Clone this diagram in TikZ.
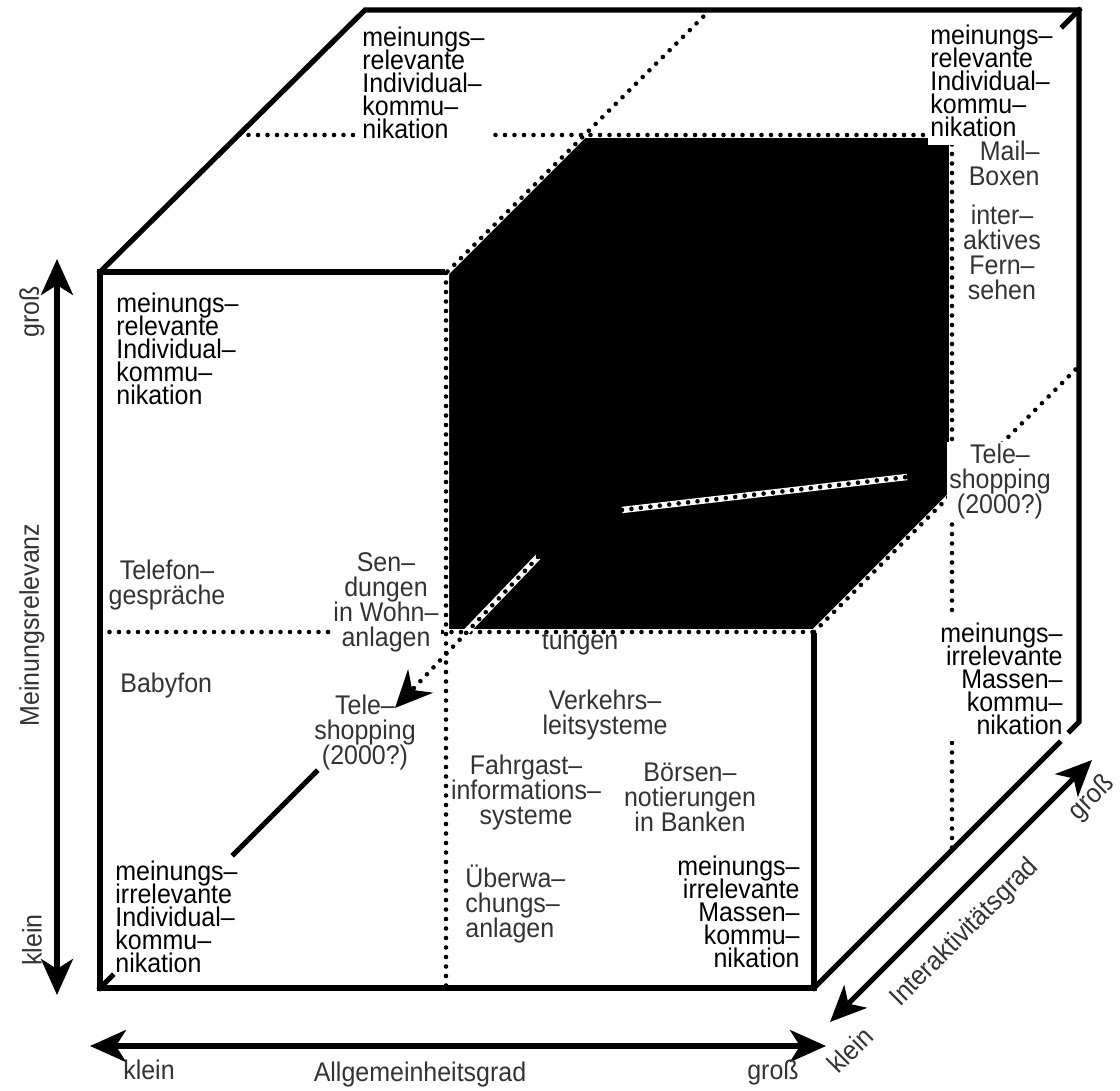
\documentclass[tikz,border=0pt]{standalone}
\usepackage{fontspec}
\setmainfont{Liberation Sans}[FakeStretch=0.925]
\usetikzlibrary{arrows.meta}
\newcommand\mycatfont{\fontsize{13.5}{11.5}\selectfont\lineskiplimit=-20pt\relax}
\newcommand\myexfont{\fontsize{13.5}{12.5}\selectfont\lineskiplimit=-20pt\relax}
\begin{document}
\begin{tikzpicture}[x=0.5pt,y=-0.5pt,
  solidedge/.style={line width=2.6pt, line cap=rect},
  dotline/.style={line width=2.3pt, line cap=round, dash pattern=on 0pt off 4.75pt},
  whiteline/.style={draw=white, line width=3pt},
  axis/.style={line width=2.6pt, {Stealth[length=18pt,width=16pt,inset=5pt]}-{Stealth[length=18pt,width=16pt,inset=5pt]}},
  cat/.style={font=\mycatfont, inner sep=0pt, text=black},
  ex/.style={font=\myexfont, inner sep=0pt, text=black!80},
  axl/.style={font=\myexfont, text=black!80, inner sep=0pt},
  wbox/.style={fill=white}
]
\useasboundingbox (0,0) rectangle (1120,1091);

% black sub-cube
\path[fill=black] (446,273) -- (584,135) -- (952,135) -- (952,494) -- (814,632) -- (446,632) -- cycle;
\draw[whiteline, line join=miter] (446,273) -- (584,135) -- (952,135) -- (952,494) -- (814,632) -- (446,632) -- cycle;

% dotted division lines
\draw[dotline] (710,10) -- (446,273);
\draw[dotline] (239,135) -- (952,135);
\draw[dotline] (952,135) -- (952,849);
\draw[dotline] (814,632) -- (1079,366);
\draw[dotline] (446,273) -- (446,988);
\draw[dotline] (100,632) -- (814,632);

% hidden lines inside the black cube
\draw[whiteline, line width=3.2pt] (538,557) -- (467,631);
\draw[dotline, -{Stealth[length=18.5pt,width=17pt,inset=6pt]}] (538,557) -- (395,708);
\draw[whiteline, line width=3.2pt] (622,510) -- (907,477);
\draw[dotline] (622,510) -- (907,477);

% category labels
\node[cat, align=left, anchor=north west] (c1) at (116,292.5)
  {meinungs–\\relevante\\Individual–\\kommu–\\nikation};
\node[cat, wbox, inner sep=2pt, align=left, anchor=north west] (c2) at (358,22.5)
  {meinungs–\\relevante\\Individual–\\kommu–\\nikation};
\node[cat, wbox, inner xsep=1pt, inner ysep=4pt, align=left, anchor=north west] (c3) at (928,16.5)
  {meinungs–\\relevante\\Individual–\\kommu–\\nikation};
\node[cat, align=left, anchor=north west] (c4) at (115,860.5)
  {meinungs–\\irrelevante\\Individual–\\kommu–\\nikation};
\node[cat, align=right, anchor=north east] (c5) at (800,855.5)
  {meinungs–\\irrelevante\\Massen–\\kommu–\\nikation};
\node[cat, wbox, inner xsep=1pt, inner ysep=3pt, align=right, anchor=north east] (c6) at (1065,616.5)
  {meinungs–\\irrelevante\\Massen–\\kommu–\\nikation};

% example labels
\node[ex, align=center, anchor=north] (telefon) at (167,559.5) {Telefon–\\gespräche};
\node[ex, wbox, inner sep=1pt, align=center, anchor=north] (sendungen) at (386,550)
  {Sen–\\dungen\\in Wohn–\\anlagen};
\node[ex, anchor=north west] (baby) at (120,672.5) {Babyfon};
\node[ex, align=center, anchor=north] (tsfront) at (365,694.5) {Tele–\\shopping\\(2000?)};
\node[ex, anchor=north] (tungen) at (580,632) {tungen};
\node[ex, align=center, anchor=north] (verkehr) at (605,689.5) {Verkehrs–\\leitsysteme};
\node[ex, align=center, anchor=north] (fahrgast) at (526,754.5) {Fahrgast–\\informations–\\systeme};
\node[ex, align=center, anchor=north] (boersen) at (690,762.5) {Börsen–\\notierungen\\in Banken};
\node[ex, align=left, anchor=north west] (ueberw) at (465,864.5) {Überwa–\\chungs–\\anlagen};
\node[ex, align=right, anchor=north east] (mail) at (1040,140.5) {Mail–\\Boxen};
\node[ex, align=center, anchor=north] (itv) at (1002,204.5) {inter–\\aktives\\Fern–\\sehen};
\node[ex, wbox, inner sep=1pt, align=center, anchor=north] (tsright) at (1000,441.5) {Tele–\\shopping\\(2000?)};

% solid cube edges
\draw[solidedge] (814,636) -- (814,988) -- (100,988) -- (100,272) -- (442,272);
\draw[solidedge] (100,272) -- (365,10) -- (1079,10) -- (1079,722) -- (1070,731);
\draw[solidedge] (814,988) -- (1059,743);
\draw[solidedge] (1079,10) -- (1063,26);
\draw[solidedge] (100,988) -- (112,976);
\draw[solidedge] (234,854) -- (316,772);

% axes
\coordinate (v1) at (57,259);
\coordinate (v2) at (57,995);
\coordinate (h1) at (90,1046);
\coordinate (h2) at (826,1046);
\coordinate (d1) at (830,1022);
\coordinate (d2) at (1092,760);
\draw[axis] (v1) -- (v2);
\draw[axis] (h1) -- (h2);
\draw[axis] (d1) -- (d2);

\node[axl, rotate=90] (vgross) at (32,312) {groß};
\node[axl, rotate=90] (vname) at (32,625) {Meinungsrelevanz};
\node[axl, rotate=90] (vklein) at (32,940) {klein};
\node[axl] (hklein) at (149,1070) {klein};
\node[axl] (hname) at (420,1075) {Allgemeinheitsgrad};
\node[axl] (hgross) at (773,1073) {groß};
\node[axl, rotate=45] (dklein) at (850,1050) {klein};
\node[axl, rotate=45] (dname) at (965,933) {Interaktivitätsgrad};
\node[axl, rotate=45] (dgross) at (1092,798) {groß};
\end{tikzpicture}
\end{document}
